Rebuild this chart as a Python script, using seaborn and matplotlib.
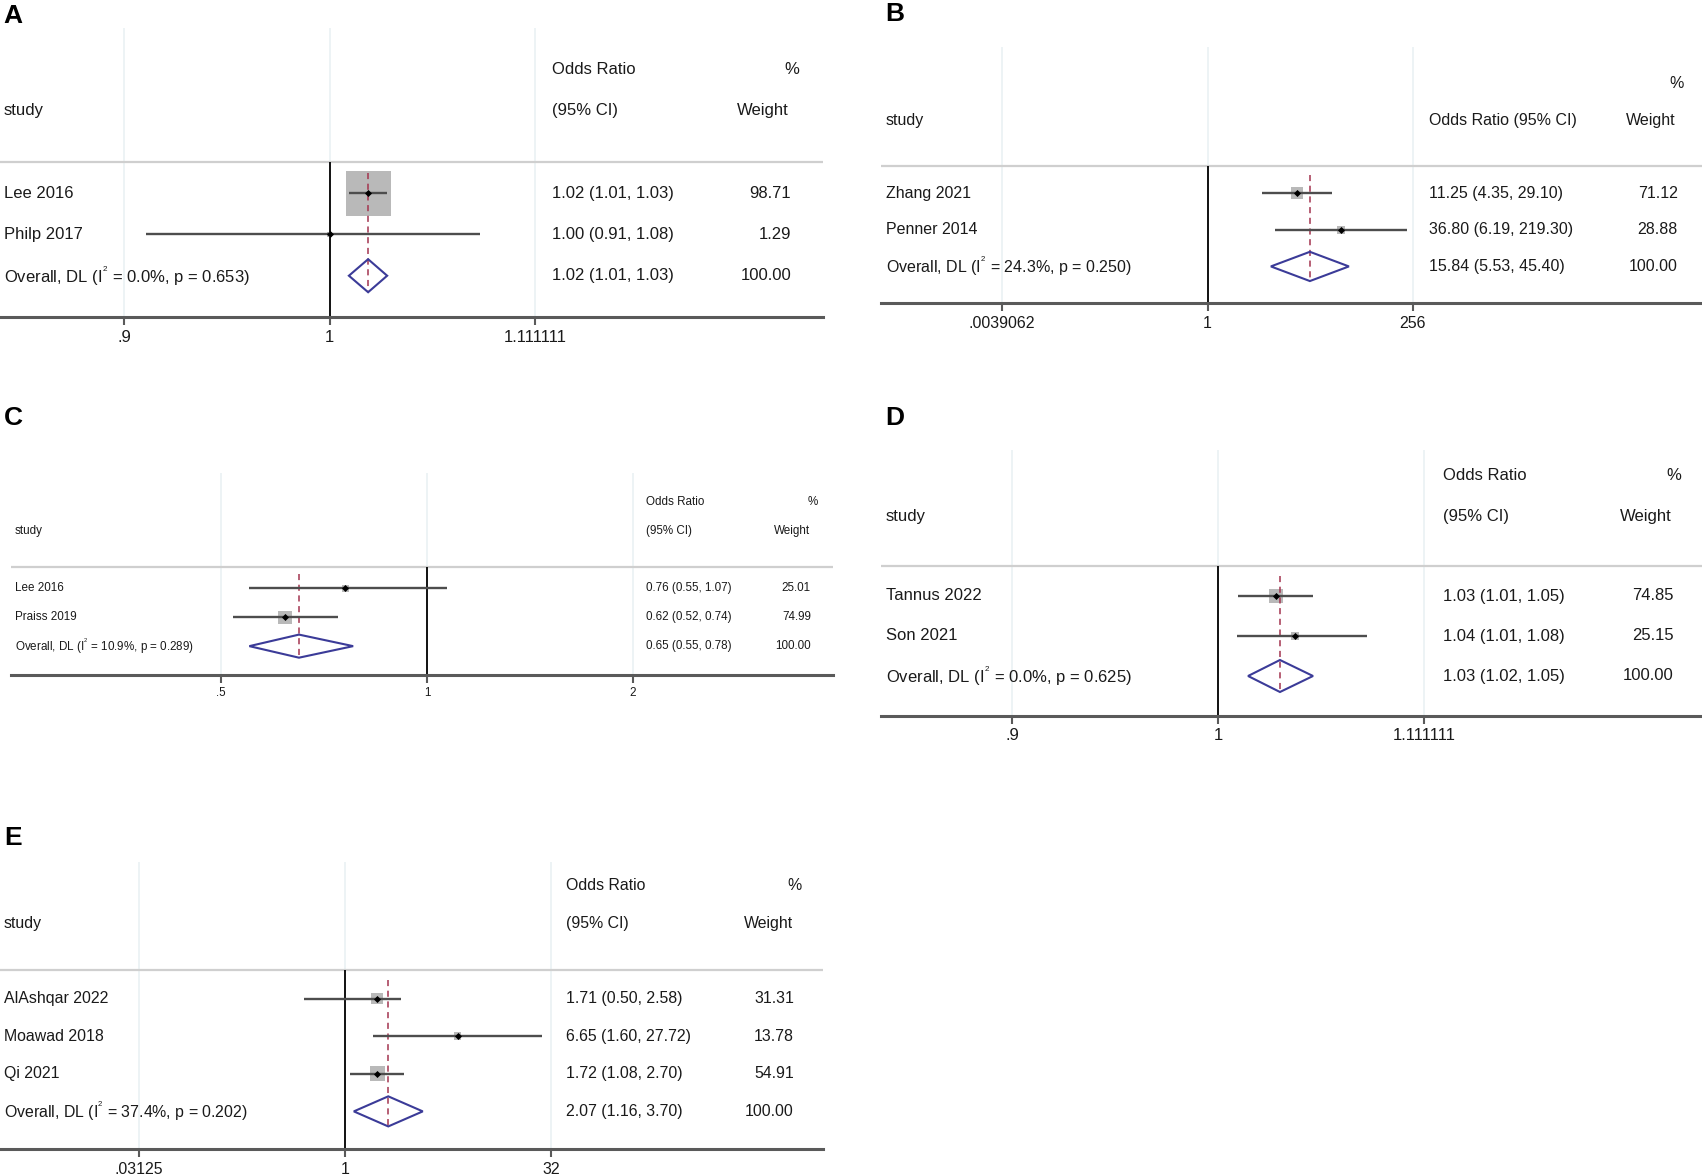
import numpy as np
import matplotlib
matplotlib.use("Agg")
import matplotlib.pyplot as plt
import matplotlib.transforms as mtransforms
from matplotlib.patches import Polygon
import seaborn as sns

# ---- data ----
# A
a_study = ["Lee 2016", "Philp 2017"]
a_or = [1.02, 1.00]
a_lo = [1.01, 0.91]
a_hi = [1.03, 1.08]
a_wt = [98.71, 1.29]
a_overall = [1.02, 1.01, 1.03]
a_het = ["0.0%", "0.653"]
a_ticks = [0.9, 1, 1.111111]
a_ticklabels = [".9", "1", "1.111111"]

# B
b_study = ["Zhang 2021", "Penner 2014"]
b_or = [11.25, 36.80]
b_lo = [4.35, 6.19]
b_hi = [29.10, 219.30]
b_wt = [71.12, 28.88]
b_overall = [15.84, 5.53, 45.40]
b_het = ["24.3%", "0.250"]
b_ticks = [0.0039062, 1, 256]
b_ticklabels = [".0039062", "1", "256"]

# C
c_study = ["Lee 2016", "Praiss 2019"]
c_or = [0.76, 0.62]
c_lo = [0.55, 0.52]
c_hi = [1.07, 0.74]
c_wt = [25.01, 74.99]
c_overall = [0.65, 0.55, 0.78]
c_het = ["10.9%", "0.289"]
c_ticks = [0.5, 1, 2]
c_ticklabels = [".5", "1", "2"]

# D (pooled values a bit finer than printed, as drawn)
d_study = ["Tannus 2022", "Son 2021"]
d_or = [1.03, 1.04]
d_lo = [1.0103, 1.01]
d_hi = [1.0498, 1.079]
d_wt = [74.85, 25.15]
d_overall = [1.0322, 1.0155, 1.0498]
d_het = ["0.0%", "0.625"]
d_ticks = [0.9, 1, 1.111111]
d_ticklabels = [".9", "1", "1.111111"]

# E
e_study = ["AlAshqar 2022", "Moawad 2018", "Qi 2021"]
e_or = [1.71, 6.65, 1.72]
e_lo = [0.50, 1.60, 1.08]
e_hi = [2.58, 27.72, 2.70]
e_wt = [31.31, 13.78, 54.91]
e_overall = [2.07, 1.16, 3.70]
e_het = ["37.4%", "0.202"]
e_ticks = [0.03125, 1, 32]
e_ticklabels = [".03125", "1", "32"]

sns.set_theme(style="white")
plt.rcParams["font.family"] = ["Liberation Sans", "DejaVu Sans"]
plt.rcParams["mathtext.fontset"] = "custom"
plt.rcParams["mathtext.rm"] = "Liberation Sans"
plt.rcParams["mathtext.it"] = "Liberation Sans"

W, H = 1702, 1176
fig = plt.figure(figsize=(W / 100, H / 100), dpi=100)

BOXGREY = "#b9b9b9"
CILINE = "#4d4d4d"
NAVY = "#3b3b98"
MAROON = "#a3344f"
AXISGREY = "#5a5a5a"
HDRGREY = "#cfcfcf"
GRID = "#eaf1f3"
TXT = "#1a1a1a"


def forest(letter, study, est, lo, hi, wt, overall, het, ticks, ticklabels,
           box, tickpx, ytop, ybot, cols, fs, k, letterpos, one_line_hdr=False):
    left, top, right, bottom = box
    ax = fig.add_axes([left / W, 1 - bottom / H, (right - left) / W, (bottom - top) / H])
    ax.set_xscale("log")
    # pixel -> log mapping from first and last tick
    ppl = (tickpx[1] - tickpx[0]) / np.log(ticks[-1] / ticks[0])
    x0 = np.exp(np.log(ticks[0]) + (left - tickpx[0]) / ppl)
    x1 = np.exp(np.log(ticks[0]) + (right - tickpx[0]) / ppl)
    ax.set_xlim(x0, x1)
    ax.set_ylim(ybot, ytop)

    n = len(study)
    rows = np.arange(1, n + 1)
    orow = n + 1

    # faint grid at ticks
    ax.vlines(ticks, ytop, ybot, color=GRID, lw=1.2, zorder=0)
    # header rule
    ax.axhline(0.25, color=HDRGREY, lw=1.6, zorder=1)
    # null line
    ax.vlines(1, 0.25, ybot, color="black", lw=1.3, zorder=2)

    # weight boxes (area proportional to weight)
    sizes = (k * np.sqrt(np.array(wt)) * 0.72) ** 2
    sns.scatterplot(x=est, y=rows, marker="s", s=sizes, color=BOXGREY,
                    linewidth=0, ax=ax, zorder=3, legend=False)
    # overall line
    ax.vlines(overall[0], 0.5, orow + 0.4, color=MAROON, lw=1.1,
              linestyles=(0, (4, 3)), zorder=4)
    # CIs
    ax.hlines(rows, lo, hi, color=CILINE, lw=1.7, zorder=5)
    sns.scatterplot(x=est, y=rows, marker="D", s=13, color="black",
                    linewidth=0, ax=ax, zorder=6, legend=False)
    # pooled diamond
    dia = Polygon([(overall[1], orow), (overall[0], orow - 0.4),
                   (overall[2], orow), (overall[0], orow + 0.4)],
                  closed=True, fill=False, edgecolor=NAVY, lw=1.5, zorder=7)
    ax.add_patch(dia)

    # text columns
    tr = mtransforms.blended_transform_factory(ax.transAxes, ax.transData)
    fx = lambda px: (px - left) / (right - left)
    study_x, est_x, wt_x, pct_x, whdr_x = cols
    kw = dict(transform=tr, fontsize=fs, va="center", color=TXT, clip_on=False)
    ax.text(fx(study_x), -1, "study", ha="left", **kw)
    if one_line_hdr:
        ax.text(fx(est_x), -1, "Odds Ratio (95% CI)", ha="left", **kw)
    else:
        ax.text(fx(est_x), -2, "Odds Ratio", ha="left", **kw)
        ax.text(fx(est_x), -1, "(95% CI)", ha="left", **kw)
    ax.text(fx(pct_x), -2, "%", ha="right", **kw)
    ax.text(fx(whdr_x), -1, "Weight", ha="right", **kw)
    for r, s_, e, l, h, w in zip(rows, study, est, lo, hi, wt):
        ax.text(fx(study_x), r, s_, ha="left", **kw)
        ax.text(fx(est_x), r, f"{e:.2f} ({l:.2f}, {h:.2f})", ha="left", **kw)
        ax.text(fx(wt_x), r, f"{w:.2f}", ha="right", **kw)
    ax.text(fx(study_x), orow,
            f"Overall, DL (I$^{{{{}}^{{2}}}}$ = {het[0]}, p = {het[1]})",
            ha="left", **kw)
    ax.text(fx(est_x), orow,
            f"{overall[0]:.2f} ({overall[1]:.2f}, {overall[2]:.2f})", ha="left", **kw)
    ax.text(fx(wt_x), orow, f"{sum(wt):.2f}", ha="right", **kw)

    # axis styling
    for side in ["top", "left", "right"]:
        ax.spines[side].set_visible(False)
    ax.spines["bottom"].set_color(AXISGREY)
    ax.spines["bottom"].set_linewidth(2.2)
    ax.set_xticks(ticks, ticklabels)
    ax.xaxis.set_minor_locator(matplotlib.ticker.NullLocator())
    ax.tick_params(axis="x", bottom=True, length=6, width=1.5, color=AXISGREY,
                   labelsize=fs, pad=3, labelcolor=TXT)
    ax.set_yticks([])
    ax.set_xlabel("")
    ax.set_ylabel("")
    ax.patch.set_alpha(0)

    fig.text(letterpos[0] / W, 1 - letterpos[1] / H, letter, fontsize=19,
             fontweight="bold", ha="left", va="top", color="black")


forest("A", a_study, a_or, a_lo, a_hi, a_wt, a_overall, a_het, a_ticks, a_ticklabels,
       box=(0, 28, 823, 317), tickpx=(124, 535), ytop=-3, ybot=4,
       cols=(4, 552, 791, 799, 789), fs=12, k=4.53, letterpos=(3, 4))
forest("B", b_study, b_or, b_lo, b_hi, b_wt, b_overall, b_het, b_ticks, b_ticklabels,
       box=(881, 47, 1702, 303), tickpx=(1002, 1413), ytop=-3, ybot=4,
       cols=(886, 1429, 1678, 1684, 1676), fs=11.5, k=1.42, letterpos=(885, 2),
       one_line_hdr=True)
forest("C", c_study, c_or, c_lo, c_hi, c_wt, c_overall, c_het, c_ticks, c_ticklabels,
       box=(11, 473, 833, 675), tickpx=(221, 633), ytop=-3, ybot=4,
       cols=(15, 646, 811, 818, 810), fs=8.4, k=1.56, letterpos=(4, 406))
forest("D", d_study, d_or, d_lo, d_hi, d_wt, d_overall, d_het, d_ticks, d_ticklabels,
       box=(881, 450, 1702, 716), tickpx=(1012, 1424), ytop=-2.65, ybot=4,
       cols=(886, 1443, 1674, 1681, 1672), fs=12, k=1.62, letterpos=(885, 406))
forest("E", e_study, e_or, e_lo, e_hi, e_wt, e_overall, e_het, e_ticks, e_ticklabels,
       box=(0, 862, 823, 1149), tickpx=(139, 551), ytop=-2.63, ybot=5,
       cols=(4, 566, 794, 802, 793), fs=11.4, k=2.03, letterpos=(4, 826))

fig.savefig("out.png", dpi=100, facecolor="white")
